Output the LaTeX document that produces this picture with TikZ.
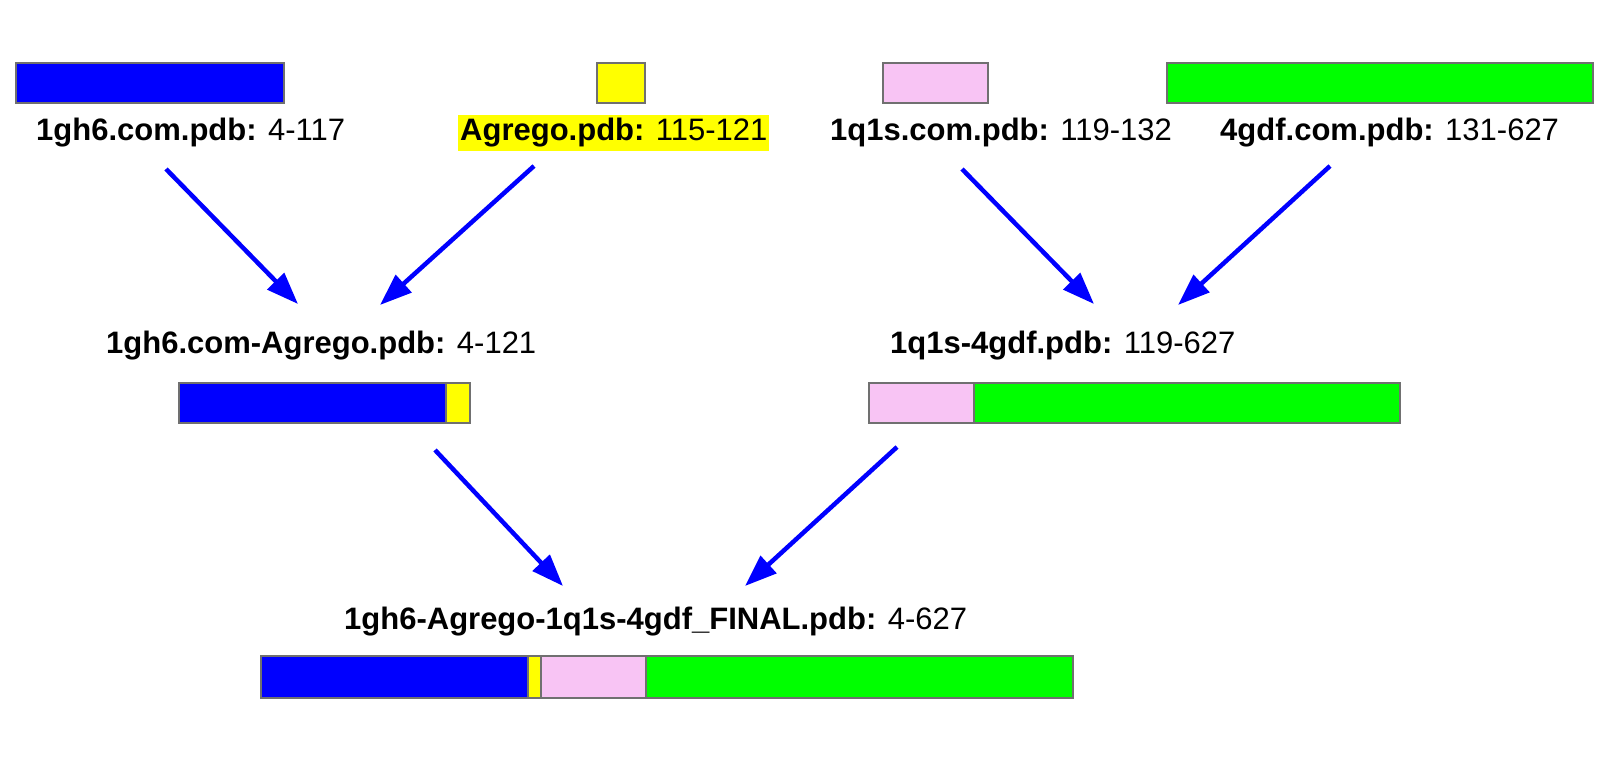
\documentclass[tikz,border=0pt]{standalone}
\usepackage{fontspec}
\setmainfont{Liberation Sans}
\usetikzlibrary{arrows.meta}
\definecolor{segblue}{HTML}{0000FF}
\definecolor{segyellow}{HTML}{FFFF00}
\definecolor{segpink}{HTML}{F8C4F4}
\definecolor{seggreen}{HTML}{00FF00}
\definecolor{segedge}{HTML}{707070}
\definecolor{arrowblue}{HTML}{0000FF}
\begin{document}
\begin{tikzpicture}[x=1pt,y=-1pt,
  seg/.style={draw=segedge,line width=1.5pt},
  lbl/.style={anchor=base west,inner sep=0pt,font=\fontsize{31}{35}\selectfont},
  flow/.style={draw=arrowblue,line width=4.5pt,-{Triangle[length=32pt,width=23pt]}}]
\useasboundingbox (0,0) rectangle (1600,757);
% ---- top bars
\draw[seg,fill=segblue]   (16,63) rectangle (284,103);
\draw[seg,fill=segyellow] (597,63) rectangle (645,103);
\draw[seg,fill=segpink]   (883,63) rectangle (988,103);
\draw[seg,fill=seggreen]  (1167,63) rectangle (1593,103);
% ---- top labels
\node[lbl] (l1) at (36,140) {\textbf{1gh6.com.pdb:} 4-117};
\node[lbl,fill=segyellow,inner xsep=2pt,text height=25pt,text depth=11pt] (l2) at (458,140) {\textbf{Agrego.pdb:} 115-121};
\node[lbl] (l3) at (830,140) {\textbf{1q1s.com.pdb:} 119-132};
\node[lbl] (l4) at (1220,140) {\textbf{4gdf.com.pdb:} 131-627};
% ---- middle labels
\node[lbl] (m1) at (106,353) {\textbf{1gh6.com-Agrego.pdb:} 4-121};
\node[lbl] (m2) at (890,353) {\textbf{1q1s-4gdf.pdb:} 119-627};
% ---- middle bars
\draw[seg,fill=segblue]   (179,383) rectangle (446,423);
\draw[seg,fill=segyellow] (446,383) rectangle (470,423);
\draw[seg,fill=segpink]   (869,383) rectangle (974,423);
\draw[seg,fill=seggreen]  (974,383) rectangle (1400,423);
% ---- bottom label
\node[lbl] (f1) at (344,629) {\textbf{1gh6-Agrego-1q1s-4gdf\_FINAL.pdb:} 4-627};
% ---- bottom bar
\draw[seg,fill=segblue]   (261,656) rectangle (528,698);
\draw[seg,fill=segyellow] (528,656) rectangle (541,698);
\draw[seg,fill=segpink]   (541,656) rectangle (646,698);
\draw[seg,fill=seggreen]  (646,656) rectangle (1073,698);
% ---- arrow endpoints
\coordinate (s1) at (166,169); \coordinate (e1) at (298,304);
\coordinate (s2) at (534,166); \coordinate (e2) at (380,305);
\coordinate (s3) at (962,169); \coordinate (e3) at (1094,304);
\coordinate (s4) at (1330,166); \coordinate (e4) at (1178,305);
\coordinate (s5) at (435,450); \coordinate (e5) at (563,586);
\coordinate (s6) at (897,447); \coordinate (e6) at (745,586);
\draw[flow] (s1) -- (e1);
\draw[flow] (s2) -- (e2);
\draw[flow] (s3) -- (e3);
\draw[flow] (s4) -- (e4);
\draw[flow] (s5) -- (e5);
\draw[flow] (s6) -- (e6);
\end{tikzpicture}
\end{document}
